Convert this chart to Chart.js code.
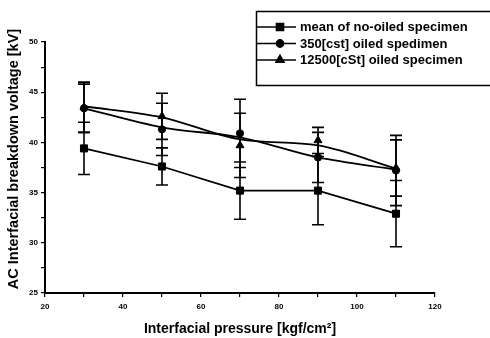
<!DOCTYPE html>
<html>
<head>
<meta charset="utf-8">
<script src="https://cdn.jsdelivr.net/npm/chart.js@4/dist/chart.umd.min.js"></script>
<style>
  html, body { margin: 0; padding: 0; background: #fff; }
  #wrap { width: 490px; height: 338px; }
</style>
</head>
<body>
<div id="wrap"><canvas id="chart" width="490" height="338"></canvas></div>
<script>
// --- Data ---
const pressure = [30, 50, 70, 90, 110];
const seriesNames = ['mean of no-oiled specimen', '350[cst] oiled spedimen', '12500[cSt] oiled specimen'];
const noOiled = [39.4, 37.6, 35.2, 35.2, 32.9];
const noOiledErr = [2.6, 1.85, 2.85, 3.4, 3.3];
const oil350 = [43.4, 41.3, 40.9, 38.5, 37.2];
const oil350Err = [2.4, 2.6, 3.4, 2.5, 3.5];
const oil12500 = [43.5, 42.6, 39.7, 40.2, 37.45];
const oil12500Err = [2.5, 2.3, 3.2, 1.3, 2.8];
// the oiled curves are smoothed fits, they don't pass exactly through the markers
const oil350Curve = [43.4, 41.5, 40.5, 38.5, 37.3];
const oil12500Curve = [43.6, 42.5, 40.3, 39.7, 37.4];
const xTickLabels = [20, 40, 60, 80, 100, 120];
const yTickLabels = [25, 30, 35, 40, 45, 50];

const FONT = '"Liberation Sans", Arial, sans-serif';
const pointStyles = ['rect', 'circle', 'triangle'];
const pointSizes = [5, 3.6, 4.6];

const toPoints = (vals) => pressure.map((p, i) => ({ x: p, y: vals[i] }));

const makeSet = (idx, vals, errs, showLine) => ({
    label: seriesNames[idx],
    data: toPoints(vals),
    errors: errs,
    inLegend: true,
    borderColor: '#000',
    backgroundColor: '#000',
    borderWidth: 1.8,
    pointStyle: pointStyles[idx],
    pointRadius: pointSizes[idx],
    pointBorderWidth: 1,
    showLine: showLine,
    tension: 0,
    fill: false
});

const makeCurve = (vals) => ({
    label: '',
    data: toPoints(vals),
    borderColor: '#000',
    borderWidth: 1.8,
    pointRadius: 0,
    tension: 0.35,
    cubicInterpolationMode: 'monotone',
    fill: false
});

// error bars drawn through the scales
const errorBars = {
    id: 'errorBars',
    afterDatasetsDraw(chart) {
        const { ctx, scales: { x, y } } = chart;
        ctx.save();
        ctx.strokeStyle = '#000';
        ctx.lineWidth = 1.6;
        chart.data.datasets.forEach(ds => {
            if (!ds.errors) return;
            ds.data.forEach((p, i) => {
                const px = x.getPixelForValue(p.x);
                const top = y.getPixelForValue(p.y + ds.errors[i]);
                const bot = y.getPixelForValue(p.y - ds.errors[i]);
                ctx.beginPath();
                ctx.moveTo(px, top); ctx.lineTo(px, bot);
                ctx.moveTo(px - 6, top); ctx.lineTo(px + 6, top);
                ctx.moveTo(px - 6, bot); ctx.lineTo(px + 6, bot);
                ctx.stroke();
            });
        });
        ctx.restore();
    }
};

// boxed legend + rotated y title
const decorations = {
    id: 'decorations',
    afterDraw(chart) {
        const { ctx } = chart;
        ctx.save();
        // legend box (runs off the right edge)
        ctx.strokeStyle = '#000';
        ctx.lineWidth = 1.5;
        ctx.beginPath();
        ctx.moveTo(492, 11.5); ctx.lineTo(256.5, 11.5); ctx.lineTo(256.5, 85.5); ctx.lineTo(492, 85.5);
        ctx.stroke();

        const rows = [27, 43.5, 60];
        chart.data.datasets.filter(ds => ds.inLegend).forEach((ds, i) => {
            const yy = rows[i];
            ctx.lineWidth = 1.6;
            ctx.beginPath();
            ctx.moveTo(257, yy); ctx.lineTo(296, yy);
            ctx.stroke();
            ctx.fillStyle = '#000';
            Chart.helpers.drawPoint(ctx, {
                pointStyle: ds.pointStyle, radius: ds.pointRadius, rotation: 0, borderWidth: 1
            }, 280, yy);
            ctx.font = 'bold 13px ' + FONT;
            ctx.textBaseline = 'middle';
            ctx.textAlign = 'left';
            ctx.fillText(ds.label, 300, yy + 0.5);
        });

        // y axis title
        ctx.translate(14, 159);
        ctx.rotate(-Math.PI / 2);
        ctx.font = 'bold 14.5px ' + FONT;
        ctx.textAlign = 'center';
        ctx.textBaseline = 'middle';
        ctx.fillText('AC Interfacial breakdown voltage [kV]', 0, 0);
        ctx.restore();
    }
};

const tickFont = { family: FONT, size: 8, weight: 'bold' };

new Chart(document.getElementById('chart').getContext('2d'), {
    type: 'line',
    data: {
        datasets: [
            makeSet(0, noOiled, noOiledErr, true),
            makeCurve(oil350Curve),
            makeCurve(oil12500Curve),
            makeSet(1, oil350, oil350Err, false),
            makeSet(2, oil12500, oil12500Err, false)
        ]
    },
    options: {
        responsive: false,
        animation: false,
        devicePixelRatio: 1,
        layout: { padding: { left: 0, top: 42, right: 55, bottom: 0 } },
        plugins: { legend: { display: false }, tooltip: { enabled: false } },
        scales: {
            x: {
                type: 'linear',
                min: xTickLabels[0],
                max: xTickLabels[xTickLabels.length - 1],
                afterFit: (s) => { s.height = 45; },
                grid: { drawOnChartArea: false, drawTicks: true, tickLength: 4, color: '#000', lineWidth: 1.2 },
                border: { color: '#000', width: 2 },
                ticks: {
                    stepSize: 10, autoSkip: false, maxRotation: 0, padding: 5,
                    color: '#000', font: tickFont,
                    callback: (v) => xTickLabels.includes(v) ? String(v) : ''
                },
                title: {
                    display: true,
                    text: 'Interfacial pressure [kgf/cm²]',
                    color: '#000',
                    font: { family: FONT, size: 14, weight: 'bold' },
                    padding: { top: 0, bottom: 0 }
                }
            },
            y: {
                min: yTickLabels[0],
                max: yTickLabels[yTickLabels.length - 1],
                afterFit: (s) => { s.width = 45; },
                grid: { drawOnChartArea: false, drawTicks: true, tickLength: 4, color: '#000', lineWidth: 1.2 },
                border: { color: '#000', width: 2 },
                ticks: {
                    stepSize: 2.5, autoSkip: false, padding: 3,
                    color: '#000', font: tickFont,
                    callback: (v) => yTickLabels.includes(v) ? String(v) : ''
                }
            }
        }
    },
    plugins: [errorBars, decorations]
});
</script>
</body>
</html>
